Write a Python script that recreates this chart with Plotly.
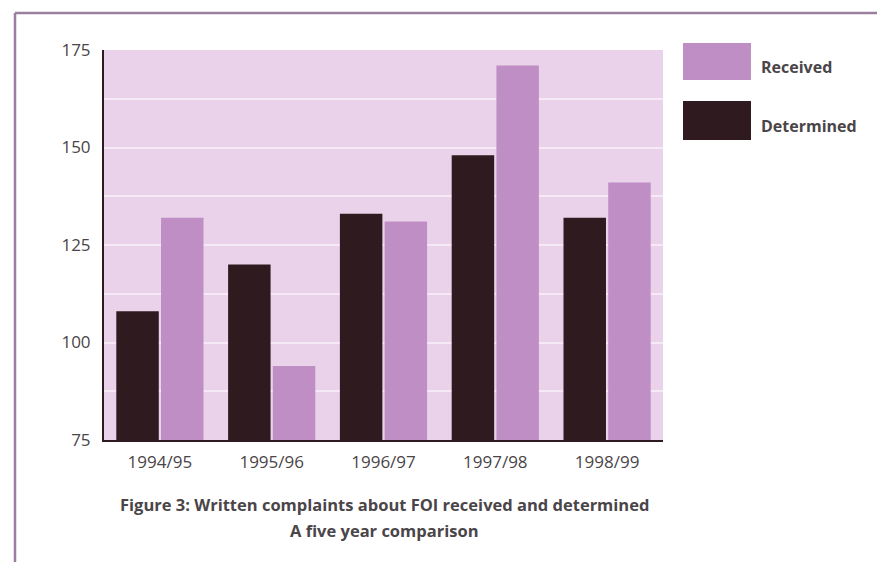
import plotly.graph_objects as go

# Written complaints about FOI, by financial year
years = ["1994/95", "1995/96", "1996/97", "1997/98", "1998/99"]
determined = [108, 120, 133, 148, 132]
received = [132, 94, 131, 171, 141]

y_ticks = [75, 100, 125, 150, 175]
series_names = ["Determined", "Received"]
caption_lines = [
    "Figure 3: Written complaints about FOI received and determined",
    "A five year comparison",
]

DARK = "#2f1b1f"
LILAC = "#be8ec5"
PLOT_BG = "#ead3ea"
GRID = "#f6e9f6"
TEXT = "#4a4548"
FRAME = "#9c7f9f"
FONT = "Open Sans"

W, H = 877, 562
L, R, T, B = 104, 214, 50, 122
PW, PH = W - L - R, H - T - B


def px(x):
    return (x - L) / PW


def py(y):
    return (H - B - y) / PH


fig = go.Figure()
fig.add_trace(go.Bar(x=years, y=determined, name=series_names[0],
                     marker=dict(color=DARK, line=dict(width=0))))
fig.add_trace(go.Bar(x=years, y=received, name=series_names[1],
                     marker=dict(color=LILAC, line=dict(width=0))))

shapes = [
    # outer frame: top and left rules
    dict(type="line", xref="paper", yref="paper", x0=px(15), x1=px(W + 5),
         y0=py(13), y1=py(13), line=dict(color=FRAME, width=2.5)),
    dict(type="line", xref="paper", yref="paper", x0=px(15), x1=px(15),
         y0=py(13), y1=py(H + 5), line=dict(color=FRAME, width=2.5)),
    # legend swatches
    dict(type="rect", xref="paper", yref="paper", x0=px(683), x1=px(751),
         y0=py(80), y1=py(43), fillcolor=LILAC, line=dict(width=0)),
    dict(type="rect", xref="paper", yref="paper", x0=px(683), x1=px(751),
         y0=py(140), y1=py(101), fillcolor=DARK, line=dict(width=0)),
]

label_font = dict(family=FONT, size=16, color=TEXT)
caption_font = dict(family=FONT, size=16.5, color=TEXT)

annotations = [
    dict(text="<b>Received</b>", xref="paper", yref="paper", x=px(759), y=py(67),
         xanchor="left", yanchor="middle", showarrow=False, font=label_font),
    dict(text="<b>Determined</b>", xref="paper", yref="paper", x=px(759), y=py(126),
         xanchor="left", yanchor="middle", showarrow=False, font=label_font),
    dict(text="<b>" + caption_lines[0] + "</b>", xref="paper", yref="paper",
         x=px(384), y=py(504), xanchor="center", yanchor="middle", showarrow=False,
         font=caption_font),
    dict(text="<b>" + caption_lines[1] + "</b>", xref="paper", yref="paper",
         x=px(384), y=py(530), xanchor="center", yanchor="middle", showarrow=False,
         font=caption_font),
]

fig.update_layout(
    width=W, height=H,
    margin=dict(l=L, r=R, t=T, b=B, pad=0),
    paper_bgcolor="white",
    plot_bgcolor=PLOT_BG,
    barmode="group",
    bargap=0.2,
    bargroupgap=0.05,
    showlegend=False,
    shapes=shapes,
    annotations=annotations,
    font=dict(family=FONT, size=16, color=TEXT),
)

tick_font = dict(family=FONT, size=17, color=TEXT)

fig.update_xaxes(
    showgrid=False, zeroline=False,
    showline=True, linecolor=DARK, linewidth=2,
    ticks="", ticklabelstandoff=6,
    tickfont=tick_font,
)
fig.update_yaxes(
    range=[75, 175], tickvals=y_ticks,
    showgrid=True, gridcolor=GRID, gridwidth=2,
    minor=dict(dtick=12.5, tick0=75, showgrid=True, gridcolor=GRID, gridwidth=2),
    zeroline=False,
    showline=True, linecolor=DARK, linewidth=2,
    ticks="", ticklabelstandoff=8,
    tickfont=tick_font,
)

fig.write_html("out.html")
